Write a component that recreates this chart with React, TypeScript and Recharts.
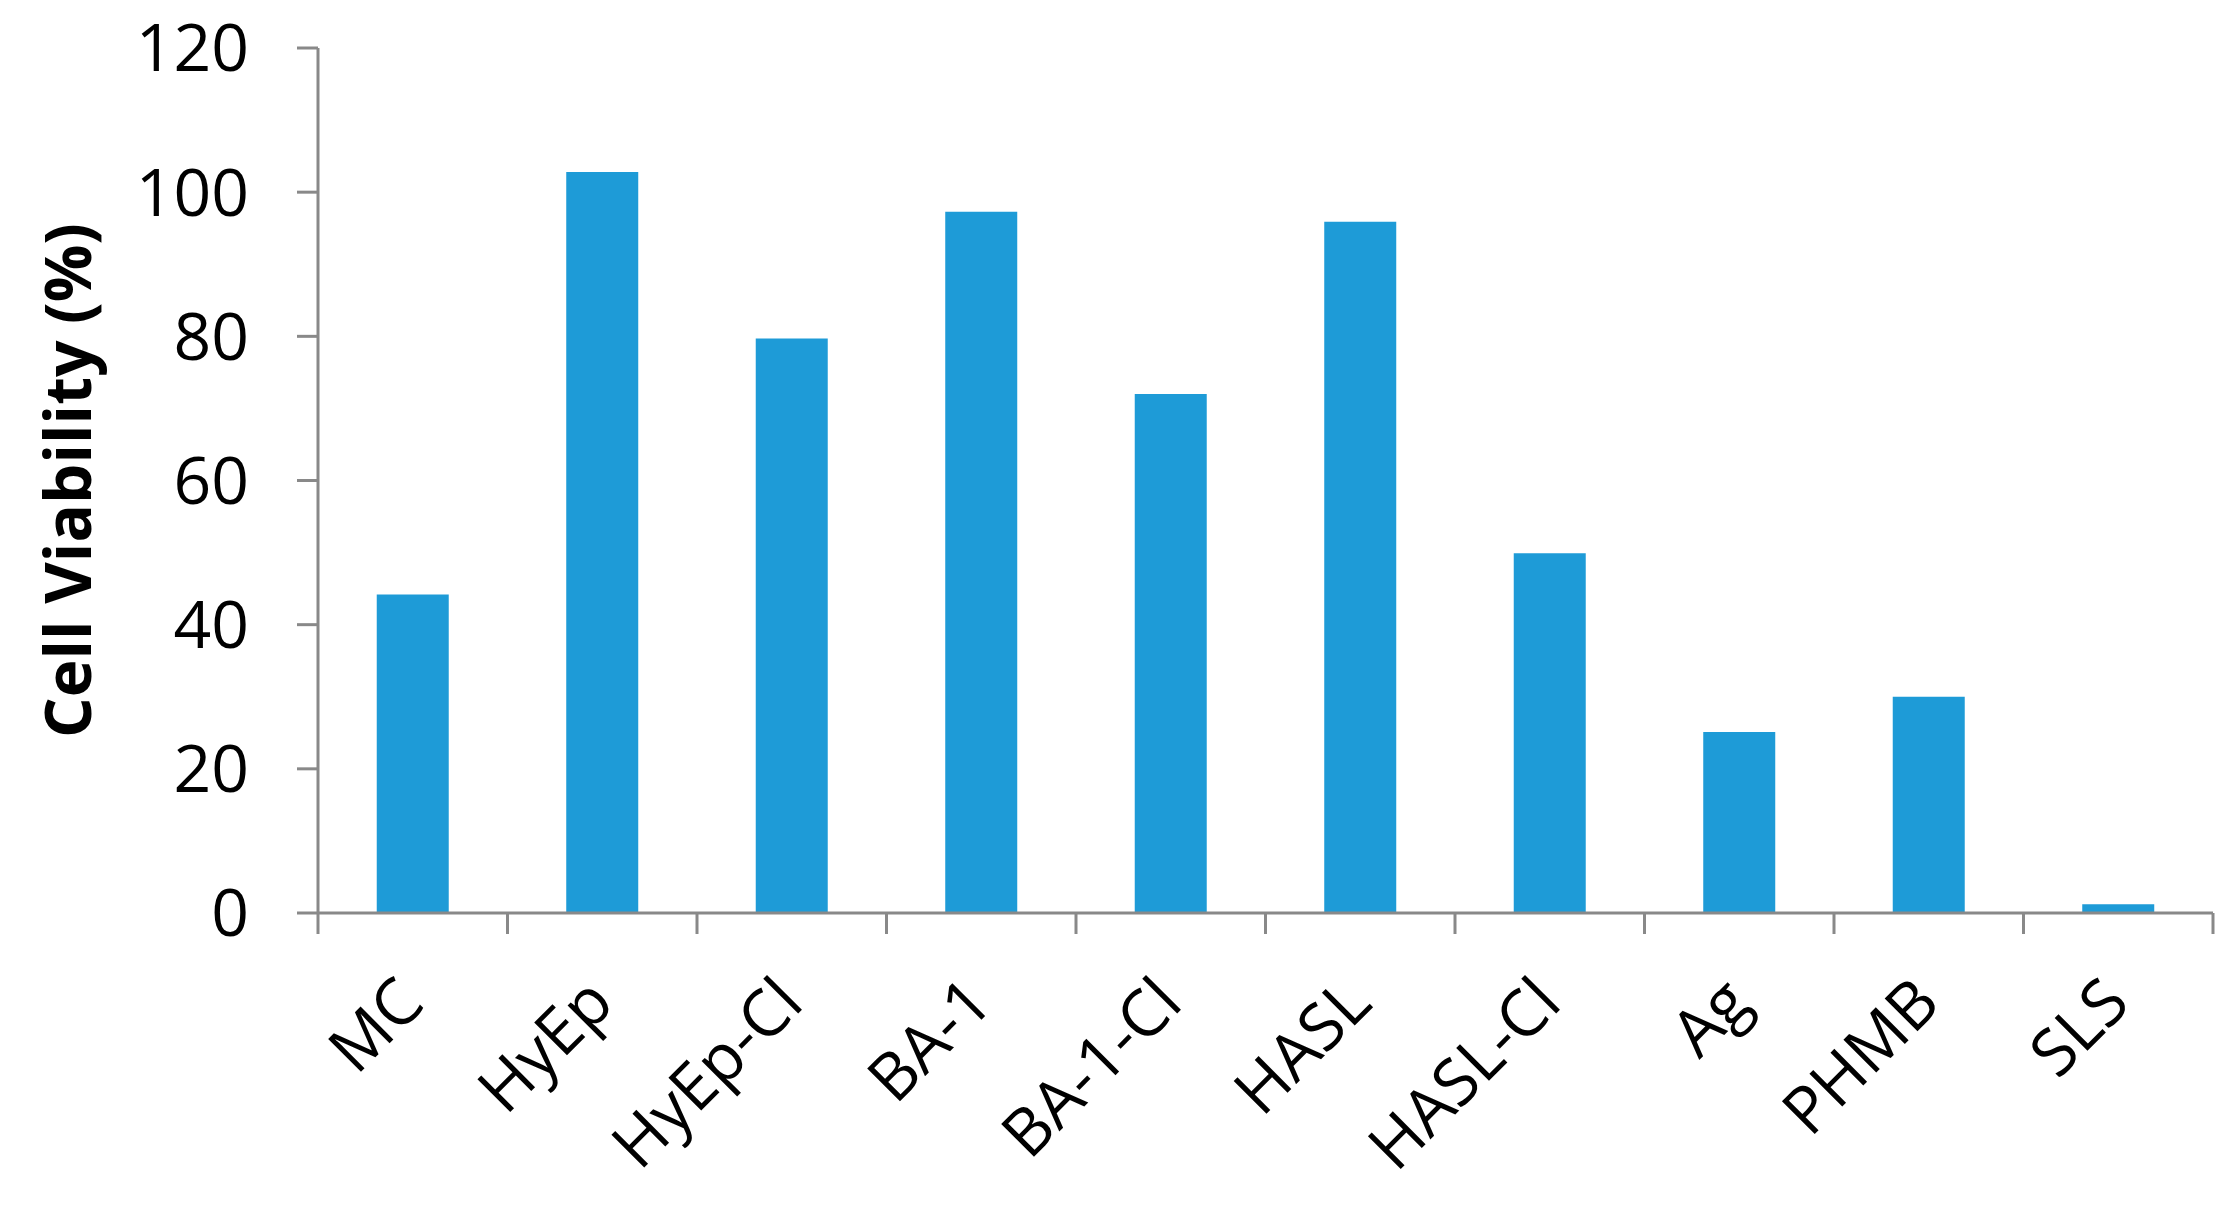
import { Bar, BarChart, Label, XAxis, YAxis } from "recharts";

const categories = ["MC", "HyEp", "HyEp-Cl", "BA-1", "BA-1-Cl", "HASL", "HASL-Cl", "Ag", "PHMB", "SLS"];
const viability = [44.2, 102.8, 79.7, 97.3, 72.0, 95.9, 49.9, 25.1, 30.0, 1.2];
const yTicks = [0, 20, 40, 60, 80, 100, 120];
// category boundaries (tick marks sit between bars)
const boundaryTicks = [0, 1, 2, 3, 4, 5, 6, 7, 8, 9, 10];

const data = categories.map((name, i) => ({ name, pos: i + 0.5, value: viability[i] }));

const AXIS = "#898989";
const BAR = "#1e9bd7";
const FONT = "'Open Sans', 'Noto Sans', sans-serif";

function CatTick({ x, y, payload }: any) {
  const ax = x + 14;
  const ay = y + 92;
  return (
    <text
      x={ax}
      y={ay}
      transform={`rotate(-45, ${ax}, ${ay})`}
      textAnchor="end"
      fontFamily={FONT}
      fontSize={65}
      fill="#000"
    >
      {payload.value}
    </text>
  );
}

function NoTick() {
  return <g />;
}

function YTitle({ viewBox }: any) {
  const cx = 66;
  const cy = viewBox ? viewBox.y + viewBox.height / 2 : 480;
  return (
    <text
      x={cx}
      y={cy}
      transform={`rotate(-90, ${cx}, ${cy})`}
      textAnchor="middle"
      dominantBaseline="central"
      fontFamily={FONT}
      fontWeight="bold"
      fontSize={64}
      fill="#000"
    >
      Cell Viability (%)
    </text>
  );
}

export default function App() {
  return (
    <div style={{ position: "absolute", left: 0, top: 0, width: 2230, height: 1205, background: "#fff" }}>
      <BarChart
        width={2230}
        height={1205}
        data={data}
        margin={{ top: 48, right: 17, left: 0, bottom: 42 }}
        barCategoryGap="31%"
      >
        <XAxis
          xAxisId="bounds"
          dataKey="pos"
          type="number"
          domain={[0, categories.length]}
          allowDataOverflow
          ticks={boundaryTicks}
          interval={0}
          height={1}
          tickSize={21}
          tick={NoTick}
          axisLine={{ stroke: AXIS, strokeWidth: 3 }}
          tickLine={{ stroke: AXIS, strokeWidth: 3 }}
        />
        <XAxis
          xAxisId="cat"
          dataKey="name"
          height={249}
          interval={0}
          axisLine={false}
          tickLine={false}
          tickSize={0}
          tickMargin={0}
          tick={CatTick}
        />
        <YAxis
          domain={[0, 120]}
          ticks={yTicks}
          width={318}
          tickSize={21}
          tickMargin={48}
          axisLine={{ stroke: AXIS, strokeWidth: 3 }}
          tickLine={{ stroke: AXIS, strokeWidth: 3 }}
          tick={{ fill: "#000", fontSize: 66, fontFamily: FONT }}
        >
          <Label content={YTitle} />
        </YAxis>
        <Bar xAxisId="cat" dataKey="value" fill={BAR} isAnimationActive={false} />
      </BarChart>
    </div>
  );
}
